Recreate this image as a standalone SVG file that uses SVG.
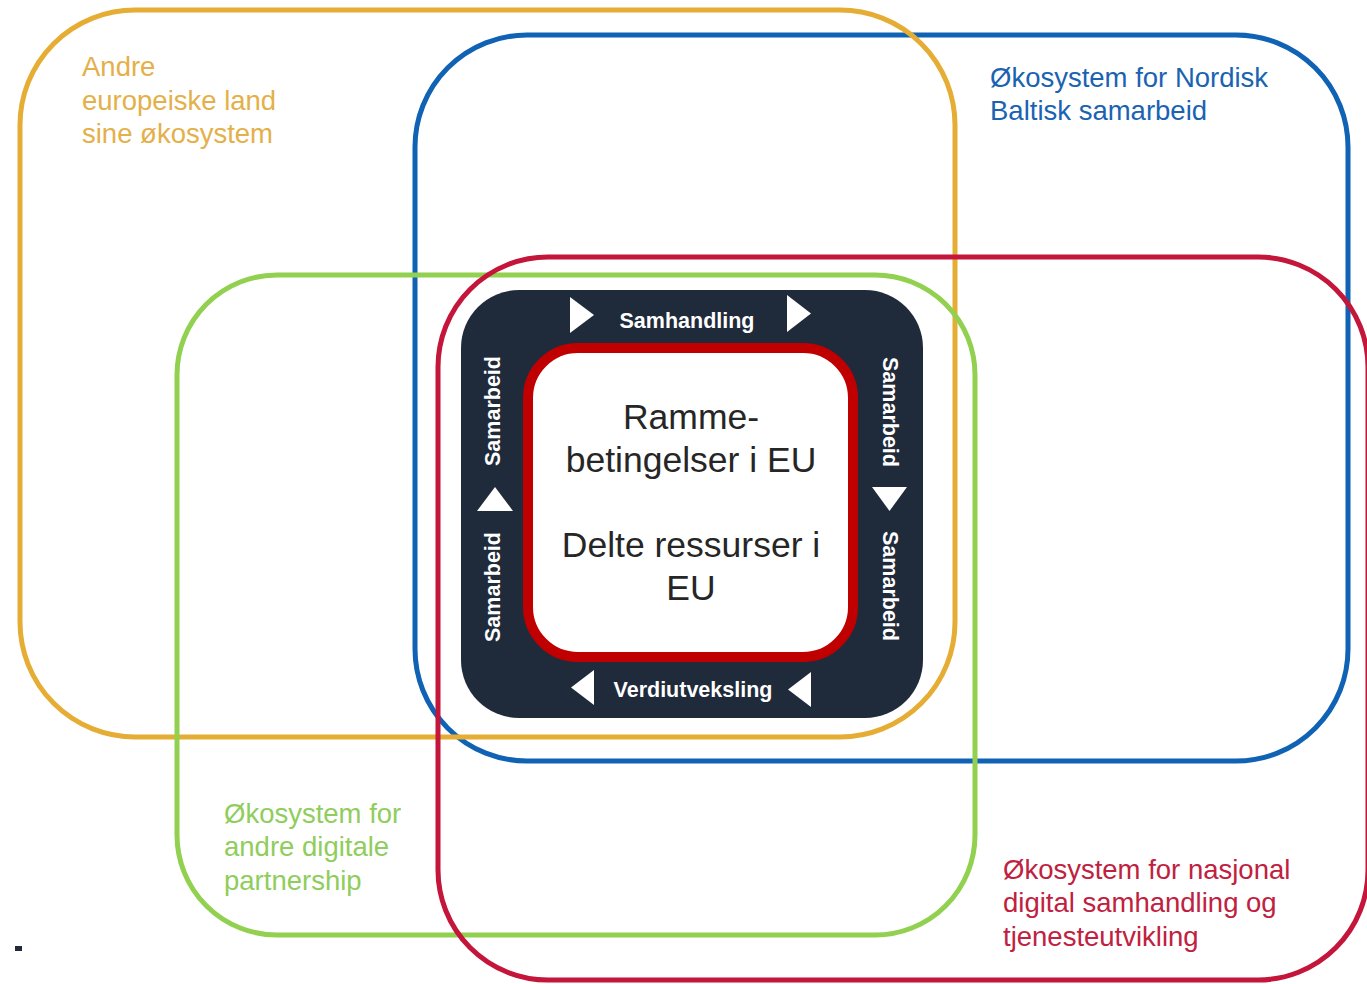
<svg xmlns="http://www.w3.org/2000/svg" width="1367" height="984" viewBox="0 0 1367 984">
  <style>
    .eco { fill: none; stroke-width: 5; }
    .lbl { font-family: "Liberation Sans", Arial, sans-serif; font-size: 27.5px; }
    .ctr { font-family: "Liberation Sans", Arial, sans-serif; font-size: 35.5px; fill: #262626; text-anchor: middle; }
    .wl { font-family: "Liberation Sans", Arial, sans-serif; font-size: 21.5px; font-weight: bold; fill: #ffffff; text-anchor: middle; }
    .tri { fill: #ffffff; }
  </style>
  <rect width="1367" height="984" fill="#ffffff"/>

  <g id="eco-nordisk">
    <rect class="eco" x="415" y="35" width="933" height="726" rx="112" ry="112" stroke="#0f62b4"/>
    <text class="lbl" fill="#1a63b2"><tspan x="990" y="87">Økosystem for Nordisk</tspan><tspan x="990" y="120">Baltisk samarbeid</tspan></text>
  </g>

  <g id="eco-europa">
    <rect class="eco" x="20" y="10" width="935" height="727" rx="115" ry="115" stroke="#e6ad35"/>
    <text class="lbl" fill="#e4b04a"><tspan x="82" y="76">Andre</tspan><tspan x="82" y="110">europeiske land</tspan><tspan x="82" y="143">sine økosystem</tspan></text>
  </g>

  <g id="eco-partnership">
    <rect class="eco" x="177" y="275" width="798" height="660" rx="100" ry="100" stroke="#92d050"/>
    <text class="lbl" fill="#8fcd5c"><tspan x="224" y="823">Økosystem for</tspan><tspan x="224" y="856">andre digitale</tspan><tspan x="224" y="890">partnership</tspan></text>
  </g>

  <g id="eco-nasjonal">
    <rect class="eco" x="438" y="257" width="930" height="723" rx="110" ry="110" stroke="#c4153a"/>
    <text class="lbl" fill="#c0213f"><tspan x="1003" y="879">Økosystem for nasjonal</tspan><tspan x="1003" y="912">digital samhandling og</tspan><tspan x="1003" y="946">tjenesteutvikling</tspan></text>
  </g>

  <g id="kjerne">
    <rect x="461" y="290" width="462" height="428" rx="58" ry="58" fill="#1f2a3b"/>
    <rect x="528" y="348" width="325" height="309" rx="50" ry="50" fill="#ffffff" stroke="#c00000" stroke-width="10"/>
    <text class="ctr"><tspan x="691" y="429">Ramme-</tspan><tspan x="691" y="472">betingelser i EU</tspan><tspan x="691" y="557">Delte ressurser i</tspan><tspan x="691" y="600">EU</tspan></text>
    <text class="wl" x="687" y="328">Samhandling</text>
    <text class="wl" x="693" y="697">Verdiutveksling</text>
    <text class="wl" transform="translate(500 411) rotate(-90)" x="0" y="0">Samarbeid</text>
    <text class="wl" transform="translate(500 587) rotate(-90)" x="0" y="0">Samarbeid</text>
    <text class="wl" transform="translate(883 412) rotate(90)" x="0" y="0">Samarbeid</text>
    <text class="wl" transform="translate(883 586) rotate(90)" x="0" y="0">Samarbeid</text>
  </g>

  <g id="connectors">
    <polygon class="tri" points="570,297 570,333 594,315"/>
    <polygon class="tri" points="787,295 787,332 811,313.5"/>
    <polygon class="tri" points="594,670 594,705 571,687.5"/>
    <polygon class="tri" points="811,672 811,707 788,689.5"/>
    <polygon class="tri" points="495,487 477,511 513,511"/>
    <polygon class="tri" points="872,487 907,487 889.5,511"/>
  </g>

  <rect id="mark" x="15" y="946" width="7" height="5" fill="#1f2a3b"/>
</svg>
